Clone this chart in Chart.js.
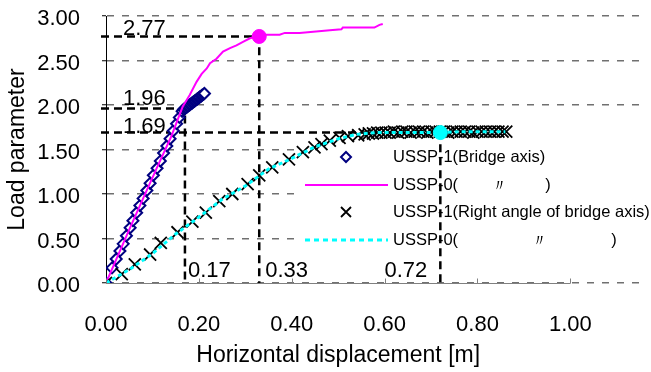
<!DOCTYPE html>
<html>
<head>
<meta charset="utf-8">
<script src="https://cdn.jsdelivr.net/npm/chart.js@4.4.1/dist/chart.umd.min.js"></script>
<style>
  html, body { margin: 0; padding: 0; background: #fff; }
  canvas { display: block; }
</style>
</head>
<body>
<canvas id="chart" width="651" height="372"></canvas>
<script>
// USSP-1 (Bridge axis) - diamonds
const bridge1X = [0, 0.013, 0.022, 0.030, 0.037, 0.044, 0.052, 0.058, 0.066, 0.073, 0.080, 0.088,
  0.095, 0.102, 0.110, 0.117, 0.124, 0.131, 0.138, 0.145, 0.152, 0.158, 0.164,
  0.167, 0.170, 0.172, 0.175, 0.177, 0.180, 0.182, 0.185, 0.187, 0.190, 0.192, 0.195,
  0.197, 0.200, 0.202, 0.205, 0.207, 0.210, 0.212];
const bridge1Y = [0, 0.17, 0.27, 0.36, 0.44, 0.53, 0.62, 0.70, 0.79, 0.87, 0.95, 1.04,
  1.12, 1.21, 1.29, 1.37, 1.46, 1.54, 1.62, 1.71, 1.79, 1.86, 1.93,
  1.95, 1.96, 1.97, 1.98, 1.99, 2.00, 2.01, 2.02, 2.03, 2.04, 2.05, 2.06,
  2.07, 2.08, 2.09, 2.10, 2.11, 2.12, 2.13];

// USSP-0 (Bridge axis) - magenta line
const bridge0X = [0, 0.02, 0.05, 0.08, 0.11, 0.14, 0.165, 0.18, 0.195, 0.206, 0.217, 0.224,
  0.238, 0.252, 0.267, 0.281, 0.295, 0.310, 0.324, 0.346, 0.374, 0.385, 0.417,
  0.482, 0.507, 0.510, 0.578, 0.589, 0.596];
const bridge0Y = [0, 0.24, 0.60, 0.95, 1.30, 1.64, 1.98, 2.11, 2.26, 2.35, 2.41, 2.47,
  2.52, 2.60, 2.64, 2.67, 2.71, 2.75, 2.77, 2.79, 2.79, 2.81, 2.81,
  2.84, 2.85, 2.87, 2.87, 2.90, 2.91];

// USSP-1 (Right angle of bridge axis) - crosses
const right1X = [0, 0.034, 0.062, 0.095, 0.118, 0.154, 0.186, 0.215, 0.244, 0.272, 0.305,
  0.330, 0.358, 0.394, 0.424, 0.449, 0.464, 0.482, 0.503, 0.521, 0.543,
  0.557, 0.566, 0.575, 0.584, 0.593, 0.602, 0.611, 0.620, 0.629, 0.638,
  0.647, 0.656, 0.665, 0.674, 0.683, 0.692, 0.701, 0.710, 0.719, 0.728,
  0.737, 0.746, 0.755, 0.764, 0.773, 0.782, 0.791, 0.800, 0.809, 0.818,
  0.827, 0.836, 0.845, 0.854, 0.862];
const right1Y = [0, 0.10, 0.21, 0.32, 0.45, 0.57, 0.69, 0.79, 0.92, 1.00, 1.11,
  1.21, 1.30, 1.39, 1.47, 1.525, 1.56, 1.60, 1.63, 1.65, 1.66,
  1.67, 1.68, 1.68, 1.69, 1.69,
  1.69, 1.69, 1.70, 1.69, 1.70,
  1.70, 1.69, 1.70, 1.70, 1.70,
  1.69, 1.70, 1.70, 1.70, 1.70,
  1.69, 1.70, 1.70, 1.70, 1.70,
  1.70, 1.69, 1.70, 1.70, 1.70,
  1.70, 1.70, 1.70, 1.70, 1.70];

// USSP-0 (Right angle of bridge axis) - cyan dotted line
const right0X = [0, 0.05, 0.10, 0.15, 0.20, 0.25, 0.30, 0.35, 0.40, 0.45, 0.50, 0.54,
  0.58, 0.62, 0.66, 0.70, 0.72, 0.76, 0.80, 0.84, 0.86];
const right0Y = [0, 0.15, 0.33, 0.55, 0.74, 0.94, 1.09, 1.28, 1.40, 1.53, 1.62, 1.67,
  1.69, 1.69, 1.69, 1.69, 1.69, 1.70, 1.70, 1.70, 1.70];

// marked points (dashed guides)
const markX = [0.17, 0.33, 0.72];
const markY = [1.96, 2.77, 1.69];

const xTickValues = [0, 0.2, 0.4, 0.6, 0.8, 1.0];
const yTickValues = [0, 0.5, 1.0, 1.5, 2.0, 2.5, 3.0];

const legendLabels = ['USSP-1(Bridge axis)', 'USSP-0(', 'USSP-1(Right angle of bridge axis)', 'USSP-0('];

const FONT = 'Arial, "Liberation Sans", sans-serif';
Chart.defaults.font.family = FONT;
Chart.defaults.color = '#000';

function pts(xs, ys) {
  return xs.map((v, i) => ({x: v, y: ys[i]}));
}

function diamond(ctx, cx, cy, r) {
  ctx.beginPath();
  ctx.moveTo(cx, cy - r);
  ctx.lineTo(cx + r, cy);
  ctx.lineTo(cx, cy + r);
  ctx.lineTo(cx - r, cy);
  ctx.closePath();
  ctx.fillStyle = '#fff';
  ctx.fill();
  ctx.strokeStyle = '#000080';
  ctx.lineWidth = 2;
  ctx.stroke();
}

function cross(ctx, cx, cy, r) {
  ctx.beginPath();
  ctx.moveTo(cx - r, cy - r); ctx.lineTo(cx + r, cy + r);
  ctx.moveTo(cx + r, cy - r); ctx.lineTo(cx - r, cy + r);
  ctx.strokeStyle = '#000';
  ctx.lineWidth = 1.8;
  ctx.stroke();
}

const overlay = {
  id: 'overlay',
  beforeDatasetsDraw(chart) {
    const {ctx, scales: {x, y}} = chart;
    const left = chart.chartArea.left;
    const y0 = y.getPixelForValue(0);
    ctx.save();

    // legend box
    ctx.fillStyle = '#fff';
    ctx.fillRect(296, 146, 355, 106);
    ctx.font = '16.5px ' + FONT;
    ctx.fillStyle = '#000';
    ctx.textBaseline = 'middle';
    ctx.textAlign = 'left';
    const rows = [157, 185, 212, 240];
    rows.forEach((ry, i) => ctx.fillText(legendLabels[i], 393, ry));
    ctx.textAlign = 'center';
    ctx.fillText('〃', 499, 186); ctx.fillText(')', 548, 185);
    ctx.fillText('〃', 539, 241); ctx.fillText(')', 614, 240);
    diamond(ctx, 346, rows[0], 5);
    ctx.beginPath(); ctx.moveTo(305, rows[1]); ctx.lineTo(388, rows[1]);
    ctx.strokeStyle = '#FF00FF'; ctx.lineWidth = 2; ctx.stroke();
    cross(ctx, 346, rows[2], 5);
    ctx.beginPath(); ctx.setLineDash([5, 4]); ctx.moveTo(305, rows[3]); ctx.lineTo(388, rows[3]);
    ctx.strokeStyle = '#00FFFF'; ctx.lineWidth = 3; ctx.stroke();

    // dashed guides
    ctx.strokeStyle = '#000';
    ctx.lineWidth = 2.5;
    ctx.setLineDash([8, 5]);
    markX.forEach((mx, i) => {
      const px = x.getPixelForValue(mx);
      const py = y.getPixelForValue(markY[i]);
      ctx.beginPath();
      ctx.moveTo(left - 5, py);
      ctx.lineTo(px, py);
      ctx.lineTo(px, y0 + (i === 2 ? 3 : 0));
      ctx.stroke();
    });
    ctx.setLineDash([]);

    // guide labels
    ctx.font = '22px ' + FONT;
    ctx.fillStyle = '#000';
    ctx.textBaseline = 'alphabetic';
    ctx.textAlign = 'left';
    const upOff = [4, 1, 0];
    markX.forEach((mx, i) => {
      ctx.fillText(markY[i].toFixed(2), left + 17, y.getPixelForValue(markY[i]) - upOff[i]);
    });
    const sideOff = [3, 6, -13];
    markX.forEach((mx, i) => {
      const px = x.getPixelForValue(mx);
      ctx.textAlign = sideOff[i] < 0 ? 'right' : 'left';
      ctx.fillText(mx.toFixed(2), px + sideOff[i], y0 - 6);
    });
    ctx.restore();
  },
  afterDraw(chart) {
    const {ctx, scales: {x, y}} = chart;
    const y0 = Math.round(y.getPixelForValue(0)) + 0.5;
    const xa = x.getPixelForValue(xTickValues[0]);
    const xb = x.getPixelForValue(xTickValues[xTickValues.length - 1]);
    ctx.save();
    ctx.strokeStyle = '#808080';
    ctx.lineWidth = 1;
    ctx.beginPath();
    ctx.moveTo(xa, y0); ctx.lineTo(xb, y0);
    xTickValues.forEach(v => {
      const px = Math.round(x.getPixelForValue(v)) + 0.5;
      ctx.moveTo(px, y0); ctx.lineTo(px, y0 - 5);
    });
    ctx.stroke();
    ctx.font = '23px ' + FONT;
    ctx.fillStyle = '#000';
    ctx.textAlign = 'center';
    ctx.textBaseline = 'middle';
    ctx.fillText('Horizontal displacement [m]', (xa + xb) / 2, 356);
    ctx.restore();
  }
};

new Chart(document.getElementById('chart'), {
  type: 'scatter',
  data: {
    datasets: [
      {
        label: 'peak0',
        data: [{x: markX[1], y: markY[1]}],
        pointRadius: 7, pointBackgroundColor: '#FF00FF', pointBorderColor: '#FF00FF',
        order: 0
      },
      {
        label: 'peak1',
        data: [{x: markX[2], y: markY[2]}],
        pointRadius: 7, pointBackgroundColor: '#00FFFF', pointBorderColor: '#00FFFF',
        order: 0
      },
      {
        label: legendLabels[3],
        data: pts(right0X, right0Y),
        showLine: true, borderColor: '#00FFFF', borderWidth: 3, borderDash: [4, 3],
        pointRadius: 0, order: 1
      },
      {
        label: legendLabels[2],
        data: pts(right1X, right1Y),
        pointStyle: 'crossRot', pointRadius: 8.5, pointBorderColor: '#000',
        pointBorderWidth: 1.8, order: 2
      },
      {
        label: legendLabels[1],
        data: pts(bridge0X, bridge0Y),
        showLine: true, borderColor: '#FF00FF', borderWidth: 2,
        pointRadius: 0, order: 3
      },
      {
        label: legendLabels[0],
        data: pts(bridge1X, bridge1Y),
        pointStyle: 'rectRot', pointRadius: 5.5, pointBackgroundColor: '#fff',
        pointBorderColor: '#000080', pointBorderWidth: 2, order: 4
      }
    ]
  },
  options: {
    responsive: false,
    animation: false,
    layout: {padding: {left: 0, right: 11, top: 16, bottom: 0}},
    plugins: {legend: {display: false}, tooltip: {enabled: false}},
    scales: {
      x: {
        type: 'linear',
        min: 0,
        max: 1.15,
        grid: {display: false, drawTicks: false},
        border: {display: false},
        ticks: {
          padding: 29,
          font: {size: 22},
          color: '#000',
          callback: v => v.toFixed(2)
        },
        afterBuildTicks: s => { s.ticks = xTickValues.map(v => ({value: v})); },
        afterFit: s => { s.height = 89; s.paddingLeft = 0; s.paddingRight = 0; }
      },
      y: {
        type: 'linear',
        min: 0,
        max: 3,
        grid: {color: '#707070', lineWidth: 1.5, tickLength: 4, tickColor: '#000', tickWidth: 1},
        border: {display: true, color: '#000', width: 1, dash: [7, 8]},
        ticks: {
          padding: 22,
          labelOffset: 3,
          font: {size: 22},
          color: '#000',
          callback: v => v.toFixed(2)
        },
        title: {display: true, text: 'Load parameter', font: {size: 23}, color: '#000', padding: {top: 4, bottom: 0}},
        afterBuildTicks: s => { s.ticks = yTickValues.map(v => ({value: v})); },
        afterFit: s => { s.width = 106; s.paddingTop = 0; s.paddingBottom = 0; }
      }
    }
  },
  plugins: [overlay]
});
</script>
</body>
</html>
